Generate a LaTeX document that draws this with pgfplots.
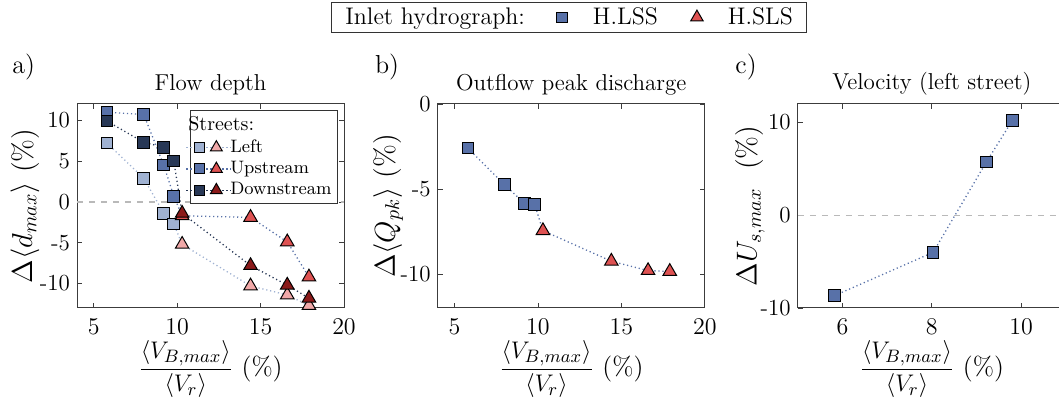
\documentclass[border=0pt]{standalone}
\usepackage{amsmath}
\usepackage{pgfplots}
\pgfplotsset{compat=1.18}

\definecolor{sqL}{RGB}{160,178,210}
\definecolor{sqU}{RGB}{88,113,168}
\definecolor{sqD}{RGB}{40,56,86}
\definecolor{trL}{RGB}{240,168,168}
\definecolor{trU}{RGB}{222,82,82}
\definecolor{trD}{RGB}{138,26,26}
\definecolor{frame}{RGB}{60,60,60}

\pgfplotsset{
  panel/.style={
    scale only axis, width=133.5pt, height=102pt, anchor=south west,
    font=\fontsize{11.5}{13}\selectfont,
    axis line style={frame, line width=0.5pt},
    tick style={frame, line width=0.4pt},
    tick align=inside, major tick length=2.5pt,
    title style={font=\fontsize{11.5}{13}\selectfont, yshift=-5pt},
    xlabel style={font=\fontsize{13}{15}\selectfont, at={(axis description cs:0.5,-0.3)}, anchor=center},
    ylabel style={font=\fontsize{14}{16}\selectfont, anchor=center},
    xticklabel style={yshift=-2pt},
    xlabel={$\dfrac{\langle V_{B,max}\rangle}{\langle V_r\rangle}$ (\%)},
  },
  dotline/.style={dash pattern=on 0.6pt off 1.4pt, line width=0.65pt, forget plot},
  sq/.style={only marks, mark=square*, mark size=2.9pt, mark options={fill=#1, draw=black, line width=0.5pt}, forget plot},
  tr/.style={only marks, mark=triangle*, mark size=3.9pt, mark options={fill=#1, draw=black, line width=0.5pt}, forget plot},
  % streets legend: dotted line, square and triangle
  street/.style 2 args={legend image code/.code={
    \path[draw=none] (0pt,0pt) -- (17pt,0pt);
    \draw[overlay, dash pattern=on 0.6pt off 1.4pt, line width=0.65pt, #1] (-3pt,0pt) -- (19.5pt,0pt);
    \draw[only marks, mark=square*, mark size=2.5pt, mark options={fill=#1, draw=black, line width=0.5pt}] plot coordinates {(3.5pt,0pt)};
    \draw[only marks, mark=triangle*, mark size=3.4pt, mark options={fill=#2, draw=black, line width=0.5pt}] plot coordinates {(12pt,0pt)};
  }},
  % hydrograph legend: single mark with fixed room around it
  hydro/.style n args={5}{legend image code/.code={
    \path[draw=none] (0pt,0pt) -- (#4,0pt);
    \draw[only marks, mark=#1, mark size=#2, mark options={fill=#5, draw=black, line width=0.5pt}] plot coordinates {(#3,0pt)};
  }},
}

\begin{document}
\begin{tikzpicture}

% a) flow depth
\begin{axis}[panel, at={(38.5pt,48.5pt)},
  xmin=4, xmax=20, ymin=-13, ymax=12,
  xtick={5,10,15,20}, ytick={-10,-5,0,5,10}, yticklabels={-10,-5,0,5,10},
  title={Flow depth},
  ylabel={$\Delta\langle d_{max}\rangle$ (\%)},
  ylabel style={at={(axis description cs:-0.195,0.5)}},
  extra description/.code={\node[font=\fontsize{13}{15}\selectfont] at (-0.2,1.18) {a)};},
  legend style={at={(axis description cs:0.977,0.97)}, anchor=north east,
    font=\fontsize{9}{10.5}\selectfont, draw=black!80, fill=white,
    inner xsep=1pt, inner ysep=1pt, row sep=-1pt, column sep=0pt,
    nodes={inner sep=2pt, text depth=0.15em}},
  legend cell align=left]
\addplot[gray!55, dashed, line width=0.6pt, forget plot] coordinates {(4,0) (20,0)};
\addplot[dotline, sqL] coordinates {(5.8,7.2) (8.0,2.9) (9.2,-1.4) (9.8,-2.7) (10.3,-5.2) (14.4,-10.3) (16.6,-11.4) (17.9,-12.7)};
\addplot[dotline, sqU] coordinates {(5.8,11.0) (8.0,10.7) (9.2,4.5) (9.8,0.7) (10.3,-1.7) (14.4,-1.9) (16.6,-4.9) (17.9,-9.2)};
\addplot[dotline, sqD] coordinates {(5.8,9.9) (8.0,7.3) (9.2,6.7) (9.8,5.0) (10.3,-1.4) (14.4,-7.8) (16.6,-10.2) (17.9,-11.8)};
\addplot[sq=sqL] coordinates {(5.8,7.2) (8.0,2.9) (9.2,-1.4) (9.8,-2.7)};
\addplot[sq=sqU] coordinates {(5.8,11.0) (8.0,10.7) (9.2,4.5) (9.8,0.7)};
\addplot[sq=sqD] coordinates {(5.8,9.9) (8.0,7.3) (9.2,6.7) (9.8,5.0)};
\addplot[tr=trL] coordinates {(10.3,-5.2) (14.4,-10.3) (16.6,-11.4) (17.9,-12.7)};
\addplot[tr=trU] coordinates {(10.3,-1.7) (14.4,-1.9) (16.6,-4.9) (17.9,-9.2)};
\addplot[tr=trD] coordinates {(10.3,-1.4) (14.4,-7.8) (16.6,-10.2) (17.9,-11.8)};
\addlegendimage{empty legend}
\addlegendentry{\hspace*{-21pt}{\fontsize{10}{12}\selectfont Streets:}}
\addlegendimage{street={sqL}{trL}}
\addlegendentry{Left}
\addlegendimage{street={sqU}{trU}}
\addlegendentry{Upstream}
\addlegendimage{street={sqD}{trD}}
\addlegendentry{Downstream}
\end{axis}

% b) outflow peak discharge
\begin{axis}[panel, at={(218.9pt,48.5pt)},
  xmin=4, xmax=20, ymin=-12, ymax=0,
  xtick={5,10,15,20}, ytick={-10,-5,0}, yticklabels={-10,-5,0},
  title={Outflow peak discharge},
  ylabel={$\Delta\langle Q_{pk}\rangle$ (\%)},
  ylabel style={at={(axis description cs:-0.186,0.5)}},
  extra description/.code={\node[font=\fontsize{13}{15}\selectfont] at (-0.19,1.18) {b)};},
  legend columns=3,
  legend style={at={(axis description cs:0.492,1.5)}, anchor=north,
    font=\fontsize{12}{14}\selectfont, draw=black!80, fill=white,
    inner xsep=7pt, inner ysep=2.5pt, column sep=0pt,
    nodes={inner sep=0pt, text depth=0.15em}},
  legend cell align=left]
\addplot[dotline, sqU] coordinates {(5.8,-2.6) (8.0,-4.75) (9.2,-5.85) (9.8,-5.9) (10.3,-7.45) (14.4,-9.25) (16.6,-9.8) (17.9,-9.85)};
\addplot[sq=sqU] coordinates {(5.8,-2.6) (8.0,-4.75) (9.2,-5.85) (9.8,-5.9)};
\addplot[tr=trU] coordinates {(10.3,-7.45) (14.4,-9.25) (16.6,-9.8) (17.9,-9.85)};
\addlegendimage{empty legend}
\addlegendentry{Inlet hydrograph:}
\addlegendimage{hydro={square*}{2.6pt}{18.5pt}{34pt}{sqU}}
\addlegendentry{H.LSS}
\addlegendimage{hydro={triangle*}{3.6pt}{19.5pt}{35pt}{trU}}
\addlegendentry{H.SLS}
\end{axis}

% c) velocity (left street)
\begin{axis}[panel, at={(398.9pt,48.5pt)}, width=134pt,
  xmin=5, xmax=11, ymin=-10, ymax=12,
  xtick={6,8,10}, ytick={-10,0,10}, yticklabels={-10,0,10},
  title={Velocity (left street)},
  ylabel={$\Delta U_{s,max}$ \ (\%)},
  ylabel style={at={(axis description cs:-0.178,0.5)}},
  extra description/.code={\node[font=\fontsize{13}{15}\selectfont] at (-0.193,1.18) {c)};}]
\addplot[gray!55, dashed, line width=0.6pt, forget plot] coordinates {(5,0) (11,0)};
\addplot[dotline, sqU] coordinates {(5.82,-8.67) (8.03,-4.0) (9.22,5.73) (9.8,10.2)};
\addplot[sq=sqU] coordinates {(5.82,-8.67) (8.03,-4.0) (9.22,5.73) (9.8,10.2)};
\end{axis}

\pgfresetboundingbox
\useasboundingbox (0pt,0pt) rectangle (529.5pt,202.5pt);
\end{tikzpicture}
\end{document}
